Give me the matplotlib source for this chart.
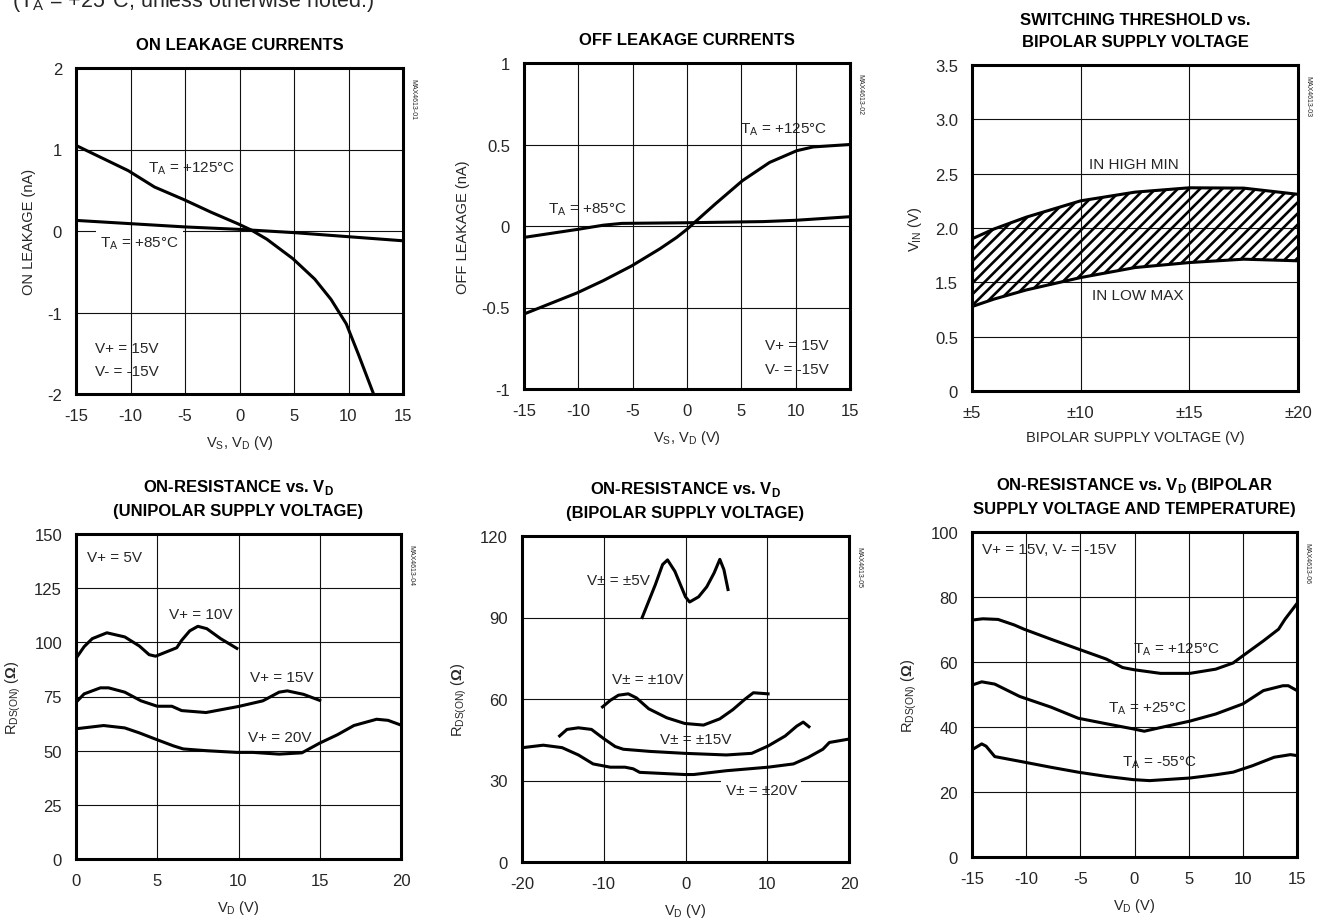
import matplotlib.pyplot as plt

plt.rcParams['font.family'] = ['Liberation Sans', 'DejaVu Sans']
plt.rcParams['axes.unicode_minus'] = False
plt.rcParams['mathtext.fontset'] = 'custom'
plt.rcParams['mathtext.rm'] = 'Liberation Sans'
plt.rcParams['mathtext.bf'] = 'Liberation Sans:bold'
plt.rcParams['hatch.linewidth'] = 1.9
plt.rcParams['hatch.color'] = 'black'

# ---- ON leakage currents
on_x_125 = [-15, -10.2, -7.8, -5.1, -2.6, -0.1, 1.1, 2.5, 4.9, 6.9, 8.4, 9.8, 10.9, 12.3]
on_y_125 = [1.05, 0.74, 0.54, 0.385, 0.23, 0.086, 0.01, -0.10, -0.34, -0.59, -0.84, -1.14, -1.51, -2.0]
on_x_85 = [-15, -10, -5, 0, 5, 10, 15]
on_y_85 = [0.13, 0.09, 0.05, 0.02, -0.02, -0.07, -0.12]

# ---- OFF leakage currents
off_x_125 = [-15, -10.1, -7.7, -5.1, -2.5, -0.95, 0.0, 1.0, 2.6, 5.1, 7.6, 10.1, 11.6, 15]
off_y_125 = [-0.54, -0.41, -0.335, -0.245, -0.14, -0.07, -0.02, 0.04, 0.135, 0.278, 0.39, 0.462, 0.485, 0.5]
off_x_85 = [-15, -10, -7.7, -6, 0, 7, 10, 15]
off_y_85 = [-0.07, -0.02, 0.005, 0.016, 0.02, 0.027, 0.035, 0.057]

# ---- switching threshold (values in axis position units; printed labels skip 1.0)
supply = [5, 6, 7.5, 10, 12.5, 15, 17.5, 20]
vin_high = [1.40, 1.49, 1.60, 1.75, 1.83, 1.87, 1.867, 1.81]
vin_low = [0.777, 0.845, 0.93, 1.044, 1.136, 1.182, 1.213, 1.198]
vin_ticklabels = ['0', '0.5', '1.5', '2.0', '2.5', '3.0', '3.5']
supply_ticklabels = ['±5', '±10', '±15', '±20']

# ---- on-resistance, unipolar supply
u10_x = [0, 0.5, 1.0, 1.9, 3.0, 3.9, 4.5, 4.9, 6.2, 6.5, 7.0, 7.5, 8.05, 8.9, 9.9]
u10_y = [92.6, 98.0, 101.7, 104.4, 102.5, 98.3, 94.3, 93.6, 97.5, 100.9, 105.3, 107.4, 106.3, 101.7, 97.2]
u15_x = [0, 0.5, 1.5, 2.0, 3.0, 4.0, 5.0, 5.9, 6.5, 8.0, 10.0, 11.5, 12.5, 13.0, 14.0, 15.0]
u15_y = [72.3, 76.2, 79.0, 79.0, 77.0, 73.0, 70.5, 70.5, 68.5, 67.6, 70.4, 73.0, 77.0, 77.6, 76.0, 73.2]
u20_x = [0, 1.7, 3.0, 3.9, 4.9, 6.0, 6.6, 8.0, 9.9, 10.9, 12.5, 13.9, 15.0, 16.1, 17.1, 18.5, 19.2, 20]
u20_y = [60.1, 61.6, 60.5, 58.2, 55.3, 52.2, 50.8, 50.0, 49.2, 49.2, 48.4, 49.0, 53.5, 57.4, 61.6, 64.5, 64.0, 61.8]

# ---- on-resistance, bipolar supply
b5_x = [-5.3, -3.7, -2.8, -2.2, -1.3, 0.0, 0.5, 1.6, 2.6, 3.5, 4.2, 4.7, 5.2]
b5_y = [90, 102, 109.5, 111.2, 107, 97.6, 95.7, 97.6, 101.3, 106.4, 111.4, 107.6, 100.3]
b10_x = [-10.15, -9.2, -8.2, -7.0, -6.0, -4.5, -2.3, -0.1, 2.2, 4.2, 5.8, 7.3, 8.3, 10.1]
b10_y = [57.1, 59.5, 61.4, 61.9, 60.4, 56.4, 53.1, 51.0, 50.4, 52.7, 56.1, 60.0, 62.3, 61.9]
b15_x = [-15.4, -14.5, -13.1, -11.5, -10.0, -8.6, -7.6, -4.3, -0.1, 5.0, 8.1, 10.1, 12.2, 13.6, 14.4, 15.1]
b15_y = [46.4, 48.8, 49.4, 48.8, 45.4, 42.5, 41.5, 40.7, 40.0, 39.4, 40.0, 42.7, 46.4, 50.0, 51.5, 49.8]
b20_x = [-19.9, -17.4, -15.1, -13.1, -11.3, -9.2, -7.4, -6.4, -5.6, -0.1, 1.0, 5.0, 10.1, 13.2, 15.0, 16.8, 17.6, 19.9]
b20_y = [42.1, 43.0, 42.1, 39.4, 36.1, 34.9, 34.9, 34.3, 33.0, 32.2, 32.2, 33.6, 34.9, 36.1, 38.5, 41.5, 44.0, 45.2]

# ---- on-resistance vs temperature
t125_x = [-15, -14.0, -12.6, -11.1, -10.2, -7.7, -5.2, -2.6, -1.1, 0.0, 2.4, 5.1, 7.5, 9.1, 10.0, 11.9, 13.3, 13.9, 15]
t125_y = [72.9, 73.3, 73.1, 71.4, 70.1, 67.0, 64.0, 60.9, 58.3, 57.6, 56.5, 56.5, 57.8, 59.7, 61.9, 66.5, 70.1, 73.2, 78.0]
t25_x = [-15, -14.1, -12.9, -10.6, -7.7, -5.2, -2.6, -0.1, 0.9, 2.5, 5.1, 7.5, 10.0, 11.9, 13.7, 14.2, 15]
t25_y = [52.9, 53.9, 53.2, 49.4, 46.1, 42.7, 41.0, 39.4, 38.7, 39.9, 41.8, 44.0, 47.1, 51.2, 52.7, 52.7, 51.2]
t55_x = [-15, -14.1, -13.7, -12.9, -10.2, -7.7, -5.2, -2.6, -0.1, 1.4, 5.1, 7.5, 9.1, 10.9, 12.9, 14.4, 15]
t55_y = [33.0, 34.8, 34.1, 30.9, 29.2, 27.6, 26.1, 24.8, 23.8, 23.5, 24.3, 25.3, 26.1, 28.1, 30.7, 31.5, 31.2]

W, H = 1320, 920
fig = plt.figure(figsize=(W / 100, H / 100), dpi=100)
TXT = '#262626'
LW = 2.2
FS = 11


def make_ax(left, right, top, bottom):
    return fig.add_axes([left / W, 1 - bottom / H, (right - left) / W, (bottom - top) / H])


def style(ax, xticks, yticks, xlabels, ylabels, title, xlab, ylab, code):
    ax.set_xlim(xticks[0], xticks[-1])
    ax.set_ylim(yticks[0], yticks[-1])
    ax.set_xticks(xticks, xlabels)
    ax.set_yticks(yticks, ylabels)
    ax.tick_params(length=0, labelsize=12, labelcolor=TXT)
    ax.tick_params(axis='x', pad=10)
    ax.tick_params(axis='y', pad=10)
    for s in ax.spines.values():
        s.set_linewidth(2.2)
    for y in yticks[1:-1]:
        ax.axhline(y, color='#111111', lw=0.8, zorder=1)
    for x in xticks[1:-1]:
        ax.axvline(x, color='#111111', lw=0.8, zorder=2.5)
    ax.set_title(title, fontsize=12, fontweight='bold', pad=14, linespacing=1.55)
    ax.set_xlabel(xlab, fontsize=10.5, color=TXT, labelpad=7)
    ax.set_ylabel(ylab, fontsize=10.5, color=TXT, labelpad=8)
    ax.text(1.03, 0.97, code, transform=ax.transAxes, rotation=270, fontsize=5,
            va='top', ha='center', color=TXT)


def label(ax, x, y, s, box=False):
    kw = dict(fontsize=FS, color=TXT, ha='left', va='center', zorder=2)
    if box:
        kw['bbox'] = dict(facecolor='white', edgecolor='none', pad=3)
    ax.text(x, y, s, **kw)


# header note, partly above the top edge as in the source page
fig.text(12 / W, 1 - 7 / H, '(T$_\\mathregular{A}$ = +25°C, unless otherwise noted.)',
         fontsize=15.5, color=TXT, va='baseline')

vxy = 'V$_\\mathregular{S}$, V$_\\mathregular{D}$ (V)'
vd = 'V$_\\mathregular{D}$ (V)'
rds = 'R$_\\mathregular{DS(ON)}$ ($\\mathbf{\\Omega}$)'
ta = 'T$_\\mathregular{A}$'

# panel 1
ax = make_ax(76, 403, 69, 395)
xt = [-15, -10, -5, 0, 5, 10, 15]
style(ax, xt, [-2, -1, 0, 1, 2], [str(v) for v in xt], ['-2', '-1', '0', '1', '2'],
      'ON LEAKAGE CURRENTS', vxy, 'ON LEAKAGE (nA)', 'MAX4613-01')
ax.plot(on_x_125, on_y_125, color='black', lw=LW, zorder=3)
ax.plot(on_x_85, on_y_85, color='black', lw=LW, zorder=3)
label(ax, -8.4, 0.78, ta + ' = +125°C')
label(ax, -12.8, -0.14, ta + ' = +85°C', box=True)
label(ax, -13.3, -1.43, 'V+ = 15V')
label(ax, -13.3, -1.72, 'V- = -15V')

# panel 2
ax = make_ax(524, 850, 64, 390)
style(ax, xt, [-1, -0.5, 0, 0.5, 1], [str(v) for v in xt], ['-1', '-0.5', '0', '0.5', '1'],
      'OFF LEAKAGE CURRENTS', vxy, 'OFF LEAKAGE (nA)', 'MAX4613-02')
ax.plot(off_x_125, off_y_125, color='black', lw=LW, zorder=3)
ax.plot(off_x_85, off_y_85, color='black', lw=LW, zorder=3)
label(ax, 4.9, 0.60, ta + ' = +125°C')
label(ax, -12.8, 0.105, ta + ' = +85°C')
label(ax, 7.2, -0.73, 'V+ = 15V')
label(ax, 7.2, -0.88, 'V- = -15V')

# panel 3
ax = make_ax(972, 1298, 66, 392)
style(ax, [5, 10, 15, 20], [0, 0.5, 1.0, 1.5, 2.0, 2.5, 3.0], supply_ticklabels, vin_ticklabels,
      'SWITCHING THRESHOLD vs.\nBIPOLAR SUPPLY VOLTAGE', 'BIPOLAR SUPPLY VOLTAGE (V)',
      'V$_\\mathregular{IN}$ (V)', 'MAX4613-03')
ax.fill_between(supply, vin_low, vin_high, facecolor='none', edgecolor='black', hatch='///',
                lw=0, zorder=3)
ax.plot(supply, vin_high, color='black', lw=LW, zorder=3)
ax.plot(supply, vin_low, color='black', lw=LW, zorder=3)
label(ax, 10.4, 2.09, 'IN HIGH MIN')
label(ax, 10.5, 0.88, 'IN LOW MAX')

# panel 4
ax = make_ax(76, 401, 535, 860)
xt = [0, 5, 10, 15, 20]
yt = [0, 25, 50, 75, 100, 125, 150]
style(ax, xt, yt, [str(v) for v in xt], [str(v) for v in yt],
      'ON-RESISTANCE vs. V$_\\mathbf{D}$\n(UNIPOLAR SUPPLY VOLTAGE)', vd, rds, 'MAX4613-04')
for xs, ys in [(u10_x, u10_y), (u15_x, u15_y), (u20_x, u20_y)]:
    ax.plot(xs, ys, color='black', lw=LW, zorder=3)
label(ax, 0.7, 139.3, 'V+ = 5V')
label(ax, 5.7, 113.2, 'V+ = 10V')
label(ax, 10.7, 83.9, 'V+ = 15V')
label(ax, 10.6, 56.1, 'V+ = 20V')

# panel 5
ax = make_ax(522, 849, 537, 863)
xt = [-20, -10, 0, 10, 20]
yt = [0, 30, 60, 90, 120]
style(ax, xt, yt, [str(v) for v in xt], [str(v) for v in yt],
      'ON-RESISTANCE vs. V$_\\mathbf{D}$\n(BIPOLAR SUPPLY VOLTAGE)', vd, rds, 'MAX4613-05')
for xs, ys in [(b5_x, b5_y), (b10_x, b10_y), (b15_x, b15_y), (b20_x, b20_y)]:
    ax.plot(xs, ys, color='black', lw=LW, zorder=3)
label(ax, -12.1, 103.9, 'V± = ±5V')
label(ax, -9.0, 67.3, 'V± = ±10V')
label(ax, -3.1, 45.4, 'V± = ±15V')
label(ax, 4.9, 26.4, 'V± = ±20V', box=True)

# panel 6
ax = make_ax(972, 1297, 533, 858)
xt = [-15, -10, -5, 0, 5, 10, 15]
yt = [0, 20, 40, 60, 80, 100]
style(ax, xt, yt, [str(v) for v in xt], [str(v) for v in yt],
      'ON-RESISTANCE vs. V$_\\mathbf{D}$ (BIPOLAR\nSUPPLY VOLTAGE AND TEMPERATURE)', vd, rds,
      'MAX4613-06')
for xs, ys in [(t125_x, t125_y), (t25_x, t25_y), (t55_x, t55_y)]:
    ax.plot(xs, ys, color='black', lw=LW, zorder=3)
label(ax, -14.1, 94.7, 'V+ = 15V, V- = -15V')
label(ax, -0.15, 64.0, ta + ' = +125°C')
label(ax, -2.45, 45.8, ta + ' = +25°C')
label(ax, -1.2, 29.2, ta + ' = -55°C')

fig.savefig('out.png', dpi=100)
